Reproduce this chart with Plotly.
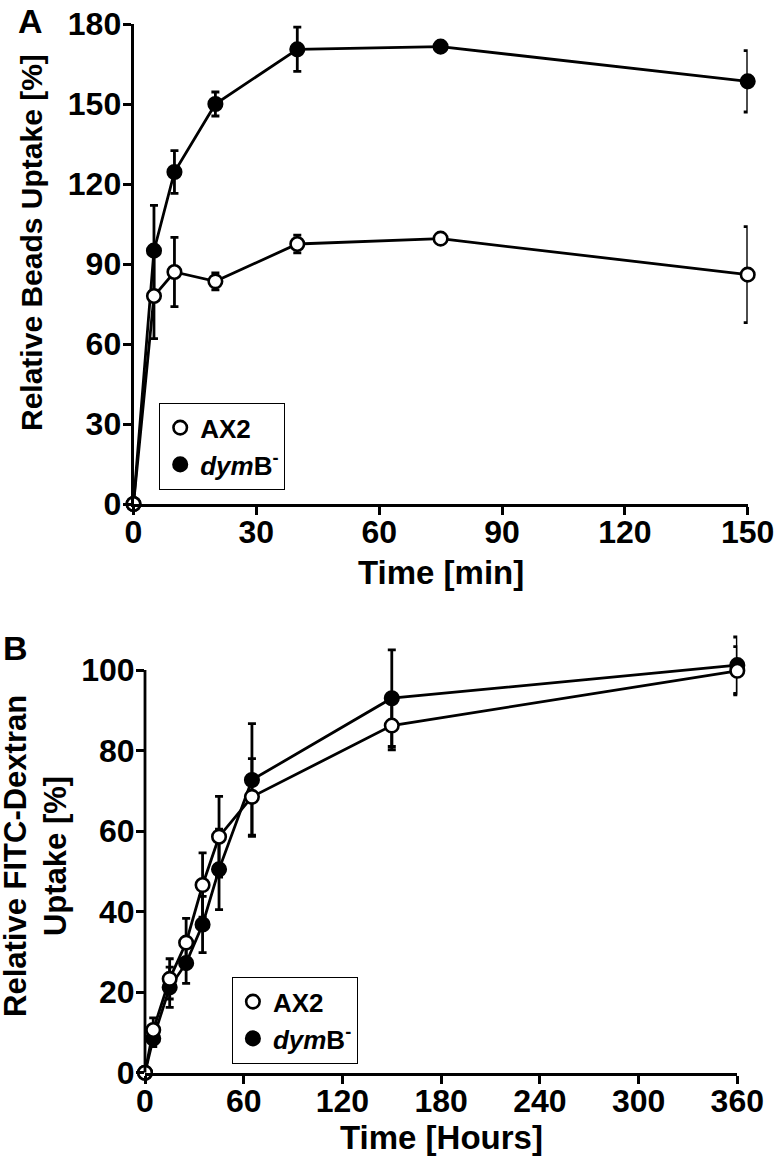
import plotly.graph_objects as go

# ---------------- Data ----------------
# Panel A: relative beads uptake
time_a = [0, 5, 10, 20, 40, 75, 150]
ax2_a = [0, 78, 87, 83.5, 97.5, 99.5, 86]
ax2_a_err = [0, 16, 13, 3.2, 3.3, 1.2, 18]
dymb_a = [0, 95, 124.5, 150, 170.5, 171.5, 158.5]
dymb_a_err = [0, 17, 8, 4.5, 8.3, 1.5, 11.5]

# Panel B: relative FITC-dextran uptake
time_b = [0, 5, 15, 25, 35, 45, 65, 150, 360]
ax2_b = [0, 10.6, 23.3, 32.3, 46.6, 58.6, 68.5, 86.2, 99.8]
ax2_b_err = [0, 3, 5, 6, 8, 10, 9.5, 6, 6]
dymb_b = [0, 8.5, 21.2, 27.2, 36.8, 50.5, 72.7, 93, 101.2]
dymb_b_err = [0, 2, 5, 5, 7, 10, 14, 12, 7]

ticks_a_x = [0, 30, 60, 90, 120, 150]
ticks_a_y = [0, 30, 60, 90, 120, 150, 180]
ticks_b_x = [0, 60, 120, 180, 240, 300, 360]
ticks_b_y = [0, 20, 40, 60, 80, 100]

name_ax2 = "AX2"
name_dymb = "<i>dym</i>B<sup>-</sup>"

# ---------------- Styles ----------------
FONT = "Liberation Sans, Arial, sans-serif"
W, H = 774, 1157
LW = 2.8
MS = 13.5


def px_x(p):
    return p / W


def px_y(p):
    return 1 - p / H


fig = go.Figure()


def add_series(x, y, err, filled, xa, ya, legend):
    fig.add_trace(go.Scatter(
        x=x, y=y, xaxis=xa, yaxis=ya,
        mode="lines+markers",
        line=dict(color="black", width=LW),
        marker=dict(size=MS, symbol="circle",
                    color="black" if filled else "white",
                    line=dict(color="black", width=2.6)),
        error_y=dict(type="data", array=err, visible=True,
                     color="black", thickness=LW, width=4),
        cliponaxis=False, showlegend=False, legend=legend,
    ))


def add_legend_entry(name, filled, xa, ya, legend, rank):
    fig.add_trace(go.Scatter(
        x=[None], y=[None], xaxis=xa, yaxis=ya, mode="markers", name=name,
        marker=dict(size=MS, symbol="circle",
                    color="black" if filled else "white",
                    line=dict(color="black", width=2.6)),
        legend=legend, legendrank=rank, showlegend=True,
    ))


# Panel A (filled drawn first so open markers sit on top)
add_series(time_a, dymb_a, dymb_a_err, True, "x", "y", "legend")
add_series(time_a, ax2_a, ax2_a_err, False, "x", "y", "legend")
add_legend_entry(name_ax2, False, "x", "y", "legend", 1)
add_legend_entry(name_dymb, True, "x", "y", "legend", 2)

# Panel B
add_series(time_b, dymb_b, dymb_b_err, True, "x2", "y2", "legend2")
add_series(time_b, ax2_b, ax2_b_err, False, "x2", "y2", "legend2")
add_legend_entry(name_ax2, False, "x2", "y2", "legend2", 1)
add_legend_entry(name_dymb, True, "x2", "y2", "legend2", 2)

tickfont = dict(family=FONT, size=32, color="black", weight="bold")
axis_common = dict(linecolor="black", linewidth=LW,
                   ticks="outside", ticklen=8, tickwidth=LW, tickcolor="black",
                   showgrid=False, zeroline=False, tickfont=tickfont,
                   fixedrange=True, automargin=False, ticklabeloverflow="allow")

legend_common = dict(bgcolor="white", bordercolor="black", borderwidth=1.2,
                     font=dict(family=FONT, size=26, color="black", weight="bold"),
                     xanchor="left", yanchor="top", xref="paper", yref="paper",
                     itemwidth=30, traceorder="normal", tracegroupgap=0)

# panel B: value axis extends a little above 100 so the top error bar is not clipped;
# the visible axis line stops at 100 like the original
B_TOP = 110
b_top_px = 670 - (1072.7 - 670) / 100 * (B_TOP - 100)

fig.update_layout(
    width=W, height=H,
    margin=dict(l=0, r=0, t=0, b=0, autoexpand=False),
    paper_bgcolor="white", plot_bgcolor="white",
    xaxis=dict(domain=[px_x(133.5), px_x(747.7)], range=[0, 150],
               tickvals=ticks_a_x, anchor="y", showline=True,
               ticklabelstandoff=-10, **axis_common),
    yaxis=dict(domain=[px_y(504), px_y(24)], range=[0, 180],
               tickvals=ticks_a_y, anchor="x", showline=True,
               ticklabelstandoff=-5, **axis_common),
    xaxis2=dict(domain=[px_x(145), px_x(737.3)], range=[0, 360],
                tickvals=ticks_b_x, anchor="y2", showline=True,
                ticklabelstandoff=-10, **axis_common),
    yaxis2=dict(domain=[px_y(1072.7), px_y(b_top_px)], range=[0, B_TOP],
                tickvals=ticks_b_y, anchor="x2", showline=False,
                ticklabelstandoff=-5, **axis_common),
    legend=dict(x=px_x(159), y=px_y(403), **legend_common),
    legend2=dict(x=px_x(231.7), y=px_y(977), **legend_common),
)

fig.add_shape(type="line", xref="x2 domain", yref="y2",
              x0=0, x1=0, y0=0, y1=ticks_b_y[-1],
              line=dict(color="black", width=LW))

label_font = dict(family=FONT, size=34, color="black", weight="bold")
annotations = [
    dict(text="A", x=px_x(31), y=px_y(0), yanchor="top", font=label_font),
    dict(text="B", x=px_x(15), y=px_y(648), yanchor="middle", font=label_font),
    dict(text="Relative Beads Uptake [%]", x=px_x(31), y=px_y(243), yanchor="middle", textangle=-90,
         font=dict(family=FONT, size=30, color="black", weight="bold")),
    dict(text="Relative FITC-Dextran<br>Uptake [%]", x=px_x(35), y=px_y(856), yanchor="middle", textangle=-90,
         font=dict(family=FONT, size=31, color="black", weight="bold")),
    dict(text="Time [min]", x=px_x(441), y=px_y(572), yanchor="middle",
         font=dict(family=FONT, size=33, color="black", weight="bold")),
    dict(text="Time [Hours]", x=px_x(441), y=px_y(1137), yanchor="middle",
         font=dict(family=FONT, size=33, color="black", weight="bold")),
]
for a in annotations:
    a.update(xref="paper", yref="paper", showarrow=False, xanchor="center")
    fig.add_annotation(**a)

fig.write_html(
    "out.html",
    config={"displayModeBar": False},
    post_script="document.body.style.margin='0';document.body.style.overflow='hidden';",
)
